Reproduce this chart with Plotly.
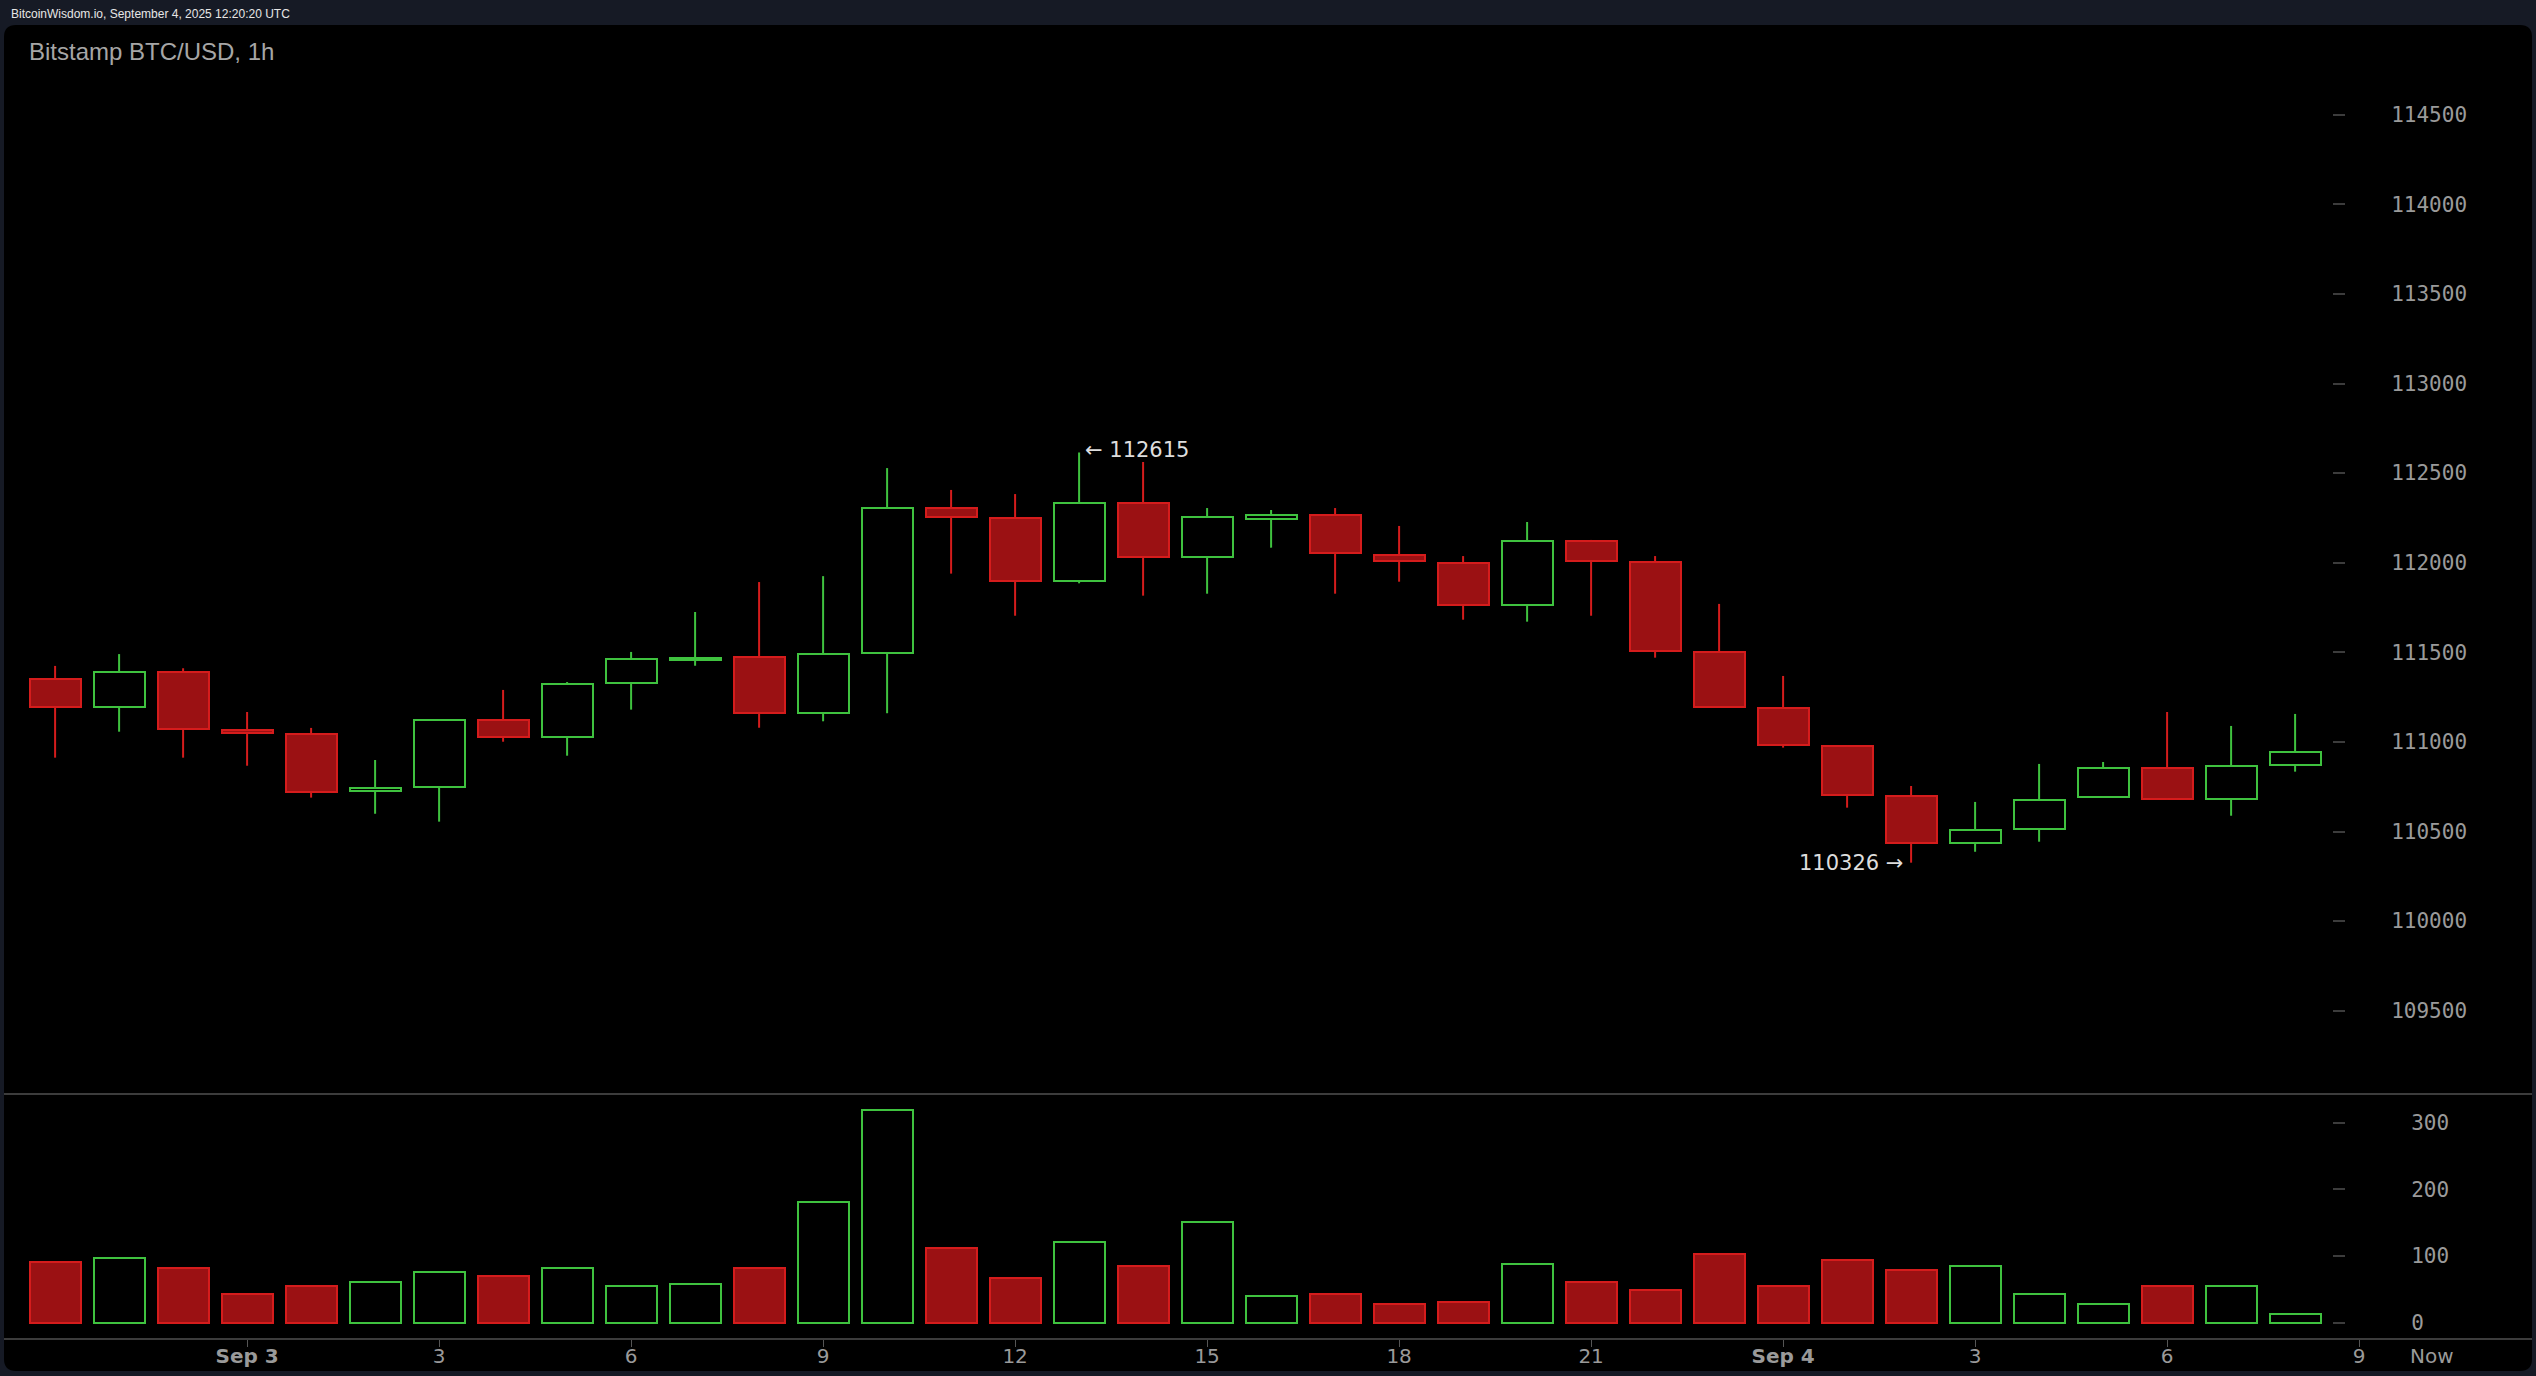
import plotly.graph_objects as go
import pandas as pd

# ---------------- data ----------------
start_time = "2025-09-02 21:00"
opens = [111353, 111195, 111388, 111065, 111042, 110725, 110747, 111120, 111027, 111327,
         111455, 111476, 111160, 111495, 112303, 112248, 111896, 112335, 112032, 112244,
         112268, 112045, 112000, 111764, 112123, 112002, 111500, 111187, 110975, 110696,
         110434, 110512, 110693, 110853, 110682, 110869]
highs = [111424, 111490, 111411, 111167, 111078, 110899, 111125, 111290, 111334, 111502,
         111725, 111892, 111925, 112528, 112406, 112383, 112615, 112562, 112305, 112294,
         112305, 112205, 112037, 112227, 112127, 112037, 111770, 111368, 110978, 110754,
         110665, 110877, 110888, 111167, 111089, 111156]
lows = [110912, 111057, 110912, 110867, 110689, 110599, 110555, 111001, 110923, 111180,
        111425, 111079, 111115, 111160, 111939, 111704, 111885, 111816, 111827, 112084,
        111827, 111894, 111682, 111671, 111704, 111470, 111190, 110968, 110633, 110326,
        110387, 110443, 110690, 110680, 110588, 110834]
closes = [111193, 111388, 111070, 111048, 110722, 110740, 111120, 111026, 111321, 111464,
          111468, 111159, 111488, 112303, 112255, 111896, 112335, 112030, 112257, 112268,
          112052, 112010, 111762, 112123, 112008, 111506, 111193, 110981, 110702, 110434,
          110507, 110674, 110853, 110682, 110864, 110942]
volumes = [91, 97, 82, 43, 55, 61, 76, 70, 82, 55, 58, 82, 181, 319, 112, 67, 121, 85,
           151, 40, 43, 28, 31, 88, 61, 49, 103, 55, 94, 79, 85, 43, 28, 55, 55, 13]

price_ticks = [109500, 110000, 110500, 111000, 111500, 112000, 112500, 113000, 113500, 114000, 114500]
volume_ticks = [0, 100, 200, 300]
x_tick_times = ["2025-09-03 00:00", "2025-09-03 03:00", "2025-09-03 06:00", "2025-09-03 09:00",
                "2025-09-03 12:00", "2025-09-03 15:00", "2025-09-03 18:00", "2025-09-03 21:00",
                "2025-09-04 00:00", "2025-09-04 03:00", "2025-09-04 06:00", "2025-09-04 09:00"]
x_tick_text = ["<b>Sep 3</b>", "3", "6", "9", "12", "15", "18", "21", "<b>Sep 4</b>", "3", "6", "9"]

header_text = "BitcoinWisdom.io, September 4, 2025 12:20:20 UTC"
title_text = "Bitstamp BTC/USD, 1h"

# ---------------- layout geometry (pixels) ----------------
W, H = 2536, 1376
L_PX, R_PX = 4, 2532
T_PX, B_PX = 25, 1338
SEP_PX = 1093
PW, PH = R_PX - L_PX, B_PX - T_PX


def px(x):
    return (x - L_PX) / PW


def py(y):
    return (B_PX - y) / PH


HOUR_PX = 64.0
FIRST_PX = 55.1
start = pd.Timestamp(start_time)
times = [start + pd.Timedelta(hours=i) for i in range(len(opens))]
x0 = start + pd.Timedelta(hours=(L_PX - FIRST_PX) / HOUR_PX)
x1 = start + pd.Timedelta(hours=(R_PX - FIRST_PX) / HOUR_PX)

# price axis: 114500 at y=114.7px, 0.1792 px per dollar
P_REF, P_REF_Y, P_SCALE = 114500, 114.7, 0.1792
price_range = [P_REF - (SEP_PX - P_REF_Y) / P_SCALE, P_REF + (P_REF_Y - T_PX) / P_SCALE]
# volume axis: 0 at y=1322.7px, 0.6667 px per unit
V0_Y, V_SCALE = 1322.7, 0.6667
vol_range = [-(B_PX - V0_Y) / V_SCALE, (V0_Y - SEP_PX) / V_SCALE]
vol_top = py(SEP_PX)

RED_FILL, RED_LINE = "#9b1113", "#d51c1c"
GREEN_LINE = "#3fc23f"
AXIS_COL = "#3c3c3c"
LABEL_COL = "#9a9a9a"

up = [c >= o for o, c in zip(opens, closes)]
fills = ["#000000" if u else RED_FILL for u in up]
lines = [GREEN_LINE if u else RED_LINE for u in up]

fig = go.Figure()

# wicks (split so hollow bodies stay hollow)
for is_up, col in [(True, GREEN_LINE), (False, RED_LINE)]:
    wx, wy = [], []
    for t, o, h, l, c, u in zip(times, opens, highs, lows, closes, up):
        if u != is_up:
            continue
        top, bot = max(o, c), min(o, c)
        if h > top:
            wx += [t, t, None]
            wy += [h, top, None]
        if l < bot:
            wx += [t, t, None]
            wy += [bot, l, None]
    fig.add_trace(go.Scatter(x=wx, y=wy, mode="lines", line=dict(color=col, width=2),
                             hoverinfo="skip", xaxis="x", yaxis="y"))

bar_w = 0.8 * 3600 * 1000
fig.add_trace(go.Bar(
    x=times, y=[abs(c - o) for o, c in zip(opens, closes)],
    base=[min(o, c) for o, c in zip(opens, closes)],
    width=bar_w, marker=dict(color=fills, line=dict(color=lines, width=2)),
    xaxis="x", yaxis="y"))

fig.add_trace(go.Bar(
    x=times, y=volumes, width=bar_w,
    marker=dict(color=fills, line=dict(color=lines, width=2)),
    xaxis="x2", yaxis="y2"))

tick_font_y = dict(family="DejaVu Sans Mono", size=21, color=LABEL_COL)
axis_y_common = dict(showgrid=False, zeroline=False, showline=False, ticks="outside",
                     ticklen=12, tickwidth=2, tickcolor=AXIS_COL, tickfont=tick_font_y,
                     side="right", anchor="free", position=px(2332), fixedrange=True,
                     tickformat="d", automargin=False)
overlay_common = dict(showgrid=False, zeroline=False, showline=False, ticks="inside",
                      ticklen=12, tickwidth=2, tickcolor=AXIS_COL, showticklabels=False,
                      side="right", automargin=False)

fig.update_layout(
    width=W, height=H,
    margin=dict(l=L_PX, r=W - R_PX, t=T_PX, b=H - B_PX, pad=0, autoexpand=False),
    paper_bgcolor="#161a25", plot_bgcolor="rgba(0,0,0,0)",
    showlegend=False, bargap=0, hovermode=False,
    xaxis=dict(domain=[0, 1], anchor="y", type="date", range=[x0, x1], showline=True,
               linecolor=AXIS_COL, linewidth=2, ticks="", showticklabels=False,
               showgrid=False, zeroline=False, automargin=False),
    xaxis2=dict(domain=[0, 1], anchor="y2", type="date", range=[x0, x1], showline=True,
                linecolor=AXIS_COL, linewidth=2, ticks="outside", ticklen=7, tickwidth=1,
                tickcolor="#555555", tickvals=x_tick_times, ticktext=x_tick_text,
                tickfont=dict(family="DejaVu Sans", size=20, color=LABEL_COL),
                ticklabelstandoff=-8, showgrid=False, zeroline=False, automargin=False),
    yaxis=dict(domain=[vol_top, 1], range=price_range, tickvals=price_ticks,
               ticklabelstandoff=42, **axis_y_common),
    yaxis2=dict(domain=[0, vol_top], range=vol_range, tickvals=volume_ticks,
                ticklabelstandoff=62, **axis_y_common),
    yaxis3=dict(overlaying="y", anchor="x", range=price_range, tickvals=price_ticks,
                **overlay_common),
    yaxis4=dict(overlaying="y2", anchor="x2", range=vol_range, tickvals=volume_ticks,
                **overlay_common),
)

# black rounded frame
fx0, fx1 = px(L_PX), px(R_PX)
fy0, fy1 = py(1371), py(T_PX)
rx, ry = 12 / PW, 12 / PH
path = (f"M {fx0+rx},{fy1} L {fx1-rx},{fy1} Q {fx1},{fy1} {fx1},{fy1-ry} "
        f"L {fx1},{fy0+ry} Q {fx1},{fy0} {fx1-rx},{fy0} L {fx0+rx},{fy0} "
        f"Q {fx0},{fy0} {fx0},{fy0+ry} L {fx0},{fy1-ry} Q {fx0},{fy1} {fx0+rx},{fy1} Z")
fig.add_shape(type="path", path=path, xref="paper", yref="paper", layer="below",
              fillcolor="#000000", line=dict(width=0))

# texts
fig.add_annotation(text=header_text, xref="paper", yref="paper", x=px(9), y=py(14),
                   xanchor="left", yanchor="middle", showarrow=False,
                   font=dict(family="Liberation Sans", size=12, color="#e6e6e6"))
fig.add_annotation(text=title_text, xref="paper", yref="paper", x=px(27), y=py(52),
                   xanchor="left", yanchor="middle", showarrow=False,
                   font=dict(family="Liberation Sans", size=24, color="#a6a6a6"))
fig.add_annotation(text="Now", xref="paper", yref="paper", x=px(2432), y=py(1356),
                   xanchor="center", yanchor="middle", showarrow=False,
                   font=dict(family="DejaVu Sans", size=20, color=LABEL_COL))

hi_i = highs.index(max(highs))
lo_i = lows.index(min(lows))
fig.add_annotation(text=f"\u2190 {highs[hi_i]}", x=times[hi_i], y=highs[hi_i], xref="x", yref="y",
                   xanchor="left", yanchor="middle", xshift=4, yshift=2, showarrow=False,
                   font=dict(family="DejaVu Sans", size=21, color="#dddddd"))
fig.add_annotation(text=f"{lows[lo_i]} \u2192", x=times[lo_i], y=lows[lo_i], xref="x", yref="y",
                   xanchor="right", yanchor="middle", xshift=-6, showarrow=False,
                   font=dict(family="DejaVu Sans", size=21, color="#dddddd"))

fig.write_html("out.html", config={"displayModeBar": False},
               post_script="document.body.style.margin='0';document.body.style.overflow='hidden';")
